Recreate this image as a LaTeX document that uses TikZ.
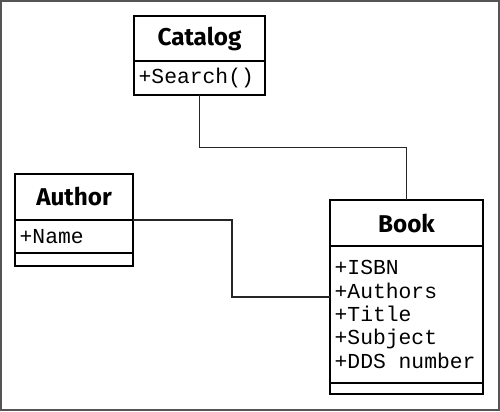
\documentclass[tikz,border=0pt]{standalone}
\usepackage{fontspec}
\setmainfont{Liberation Sans}
\newfontfamily\titlefont{Fira Sans}
\newfontfamily\attrfont{Liberation Mono}
\usetikzlibrary{positioning,calc}

\definecolor{frame}{HTML}{555555}

\tikzset{
  box/.style={draw, line width=1.1pt, inner sep=0pt, outer sep=0pt},
  classname/.style={box, font=\titlefont\fontsize{18.2}{20}\selectfont\bfseries},
  members/.style={box, font=\attrfont\fontsize{16}{17.5}\selectfont, align=left, inner xsep=3.5pt},
  link/.style={draw=black!85, line width=0.9pt},
}

\begin{document}
\begin{tikzpicture}[x=0.75pt, y=-0.75pt]

\useasboundingbox (0,0) rectangle (500,411);
\draw[line width=1.5pt, draw=frame] (1,1) rectangle (499,410);

\node[classname, minimum width=98.25pt, minimum height=33.75pt, anchor=north west] (catalog) at (134,16) {Catalog};
\node[members, text width=91.25pt, minimum height=25.5pt, below=0pt of catalog] (catalog ops) {+Search()};

\node[classname, minimum width=88.5pt, minimum height=34.5pt, anchor=north west] (author) at (15,174) {Author};
\node[members, text width=81.5pt, minimum height=24.75pt, below=0pt of author] (author attrs) {+Name};
\node[box, minimum width=88.5pt, minimum height=9.75pt, below=0pt of author attrs] (author ops) {};

\node[classname, minimum width=114.75pt, minimum height=34.5pt, anchor=north west] (book) at (330,200) {Book};
\node[members, text width=107.75pt, minimum height=102.75pt, below=0pt of book] (book attrs)
  {+ISBN\\+Authors\\+Title\\+Subject\\+DDS\hspace{0.6em}number};
\node[box, minimum width=114.75pt, minimum height=8.25pt, below=0pt of book attrs] (book ops) {};

\coordinate (mid) at ($(catalog ops.south)!.5!(book.north)$);
\coordinate (turn) at (232,297);

\draw[link] (catalog ops.south) |- (mid) -| (book.north);
\draw[link] (author.south east) -| (turn) -- (turn -| book attrs.west);

\end{tikzpicture}
\end{document}
